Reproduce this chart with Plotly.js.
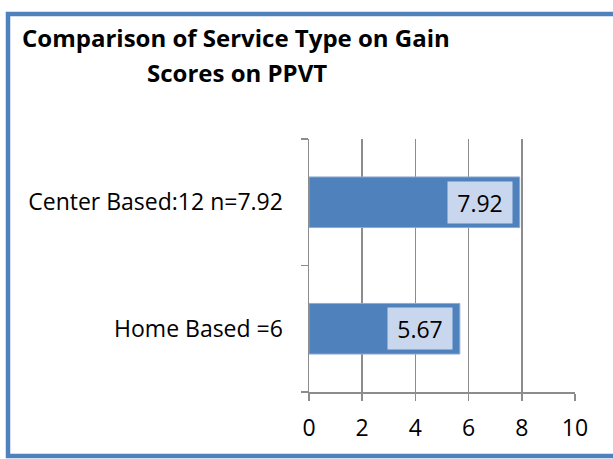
<!DOCTYPE html>
<html>
<head>
<meta charset="utf-8">
<script src="https://cdn.plot.ly/plotly-3.0.1.min.js"></script>
<style>
html,body{margin:0;padding:0;background:#fff;}
#chart{width:613px;height:459px;}
</style>
</head>
<body>
<div id="chart"></div>
<script>
// Data
const categories = ["Home Based =6", "Center Based:12 n=7.92"];
const values = [5.67, 7.92];
const valueLabels = ["5.67", "7.92"];
const xTicks = [0, 2, 4, 6, 8, 10];
const titleLines = ["Comparison of Service Type on Gain", "Scores on PPVT"];

const W = 613, H = 459;
const L = 309, R = 38, T = 139, B = 67;
const pw = W - L - R, ph = H - T - B;
const px = x => (x - L) / pw;
const py = y => (H - B - y) / ph;

const FONT = "Open Sans, sans-serif";
const blue = "#4f81bd";

const trace = {
  type: "bar",
  orientation: "h",
  y: categories,
  x: values,
  width: 0.4,
  marker: {color: blue, line: {color: "#8eaad3", width: 1}},
  hoverinfo: "none"
};

const annotations = values.map((v, i) => ({
  x: v, y: categories[i], xref: "x", yref: "y",
  text: valueLabels[i],
  showarrow: false,
  xanchor: "right", yanchor: "middle",
  xshift: -7,
  bgcolor: "#c9d7ee",
  borderpad: 0,
  width: 64, height: 41,
  font: {family: FONT, size: 23, color: "#000"}
}));

annotations.push({
  xref: "paper", yref: "paper",
  x: px(236), y: py(37),
  text: "<b>" + titleLines[0] + "</b>",
  showarrow: false, xanchor: "center", yanchor: "middle",
  font: {family: FONT, size: 24, color: "#000"}
});
annotations.push({
  xref: "paper", yref: "paper",
  x: px(237), y: py(72),
  text: "<b>" + titleLines[1] + "</b>",
  showarrow: false, xanchor: "center", yanchor: "middle",
  font: {family: FONT, size: 24, color: "#000"}
});

const layout = {
  width: W, height: H,
  margin: {l: L, r: R, t: T, b: B, pad: 0},
  paper_bgcolor: "#fff",
  plot_bgcolor: "#fff",
  showlegend: false,
  bargap: 0.6,
  xaxis: {
    range: [0, 10],
    tickvals: xTicks,
    ticktext: xTicks.map(String),
    showgrid: true, gridcolor: "#8c8c8c", gridwidth: 1.5,
    showline: true, linecolor: "#8c8c8c", linewidth: 1.5,
    ticks: "outside", ticklen: 7, tickcolor: "#8c8c8c", tickwidth: 1.5,
    ticklabelstandoff: 8,
    zeroline: false,
    tickfont: {family: FONT, size: 23, color: "#000"},
    fixedrange: true
  },
  yaxis: {
    type: "category",
    categoryorder: "array", categoryarray: categories,
    range: [-0.5, 1.5],
    showgrid: false,
    showline: true, linecolor: "#8c8c8c", linewidth: 1.5,
    ticks: "outside", ticklen: 7, tickcolor: "#8c8c8c", tickwidth: 1.5,
    tickson: "boundaries",
    ticklabelstandoff: 20,
    tickfont: {family: FONT, size: 23, color: "#000"},
    fixedrange: true
  },
  annotations: annotations,
  shapes: [{
    type: "rect", xref: "paper", yref: "paper",
    x0: px(8), x1: px(625), y0: py(14), y1: py(456),
    line: {color: blue, width: 4.5}, fillcolor: "rgba(0,0,0,0)",
    layer: "below"
  }]
};

Plotly.newPlot("chart", [trace], layout, {displayModeBar: false, staticPlot: true});
</script>
</body>
</html>
